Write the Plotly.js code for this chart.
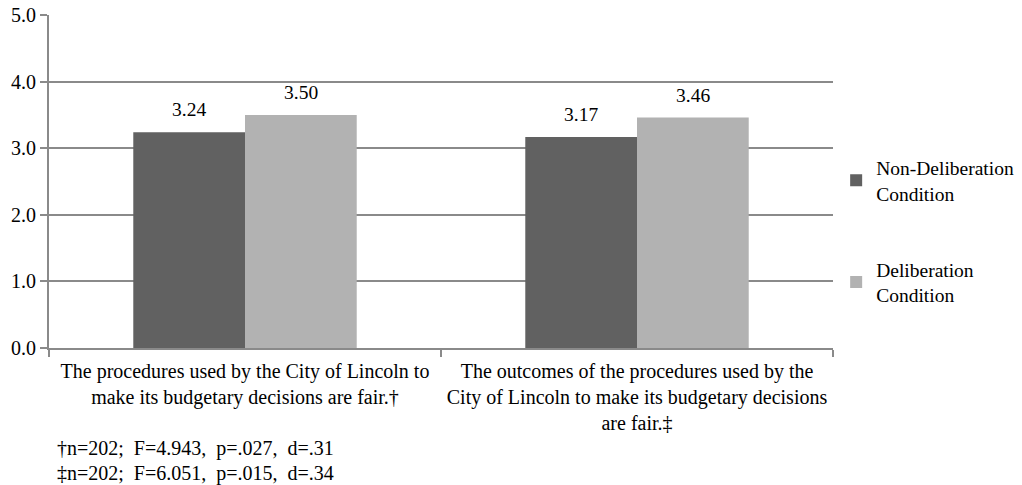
<!DOCTYPE html>
<html>
<head>
<meta charset="utf-8">
<script src="https://cdn.plot.ly/plotly-3.0.1.min.js"></script>
<style>html,body{margin:0;padding:0;background:#fff;}#chart{width:1022px;height:485px;}</style>
</head>
<body>
<div id="chart"></div>
<script>
const categories = [
  "The procedures used by the City of Lincoln to<br>make its budgetary decisions are fair.†",
  "The outcomes of the procedures used by the<br>City of Lincoln to make its budgetary decisions<br>are fair.‡"
];
const seriesNames = ["Non-Deliberation<br>Condition", "Deliberation<br>Condition"];
const nonDeliberation = [3.24, 3.17];
const deliberation = [3.50, 3.46];
const yTicks = [0, 1, 2, 3, 4, 5];
const yTickLabels = ["0.0", "1.0", "2.0", "3.0", "4.0", "5.0"];
const footnotes = [
  "†n=202;  F=4.943,  p=.027,  d=.31",
  "‡n=202;  F=6.051,  p=.015,  d=.34"
];

const font = "'Liberation Serif', 'Times New Roman', Times, serif";
const bargap = 0.43;
const marginL = 49;
const paperW = 1022 - marginL;
const plotW = 784;
const barPx = (plotW / categories.length) * (1 - bargap) / 2;

const traces = [
  {type: "bar", name: seriesNames[0], x: categories, y: nonDeliberation, legendgroup: "a",
   marker: {color: "#616161"}},
  {type: "bar", name: seriesNames[1], x: categories, y: deliberation, legendgroup: "b",
   marker: {color: "#b2b2b2"}}
];

const labelAnns = [];
[nonDeliberation, deliberation].forEach((vals, s) => {
  vals.forEach((v, i) => {
    labelAnns.push({
      text: v.toFixed(2), x: categories[i], y: v, xref: "x", yref: "y",
      xshift: (s === 0 ? -1 : 1) * barPx / 2, yshift: 10, yanchor: "bottom",
      showarrow: false, font: {family: font, size: 19.5, color: "#000"}
    });
  });
});

const layout = {
  width: 1022, height: 485,
  margin: {l: marginL, r: 0, t: 15, b: 137},
  paper_bgcolor: "#fff", plot_bgcolor: "#fff",
  font: {family: font, size: 20, color: "#000"},
  barmode: "group", bargap: bargap, bargroupgap: 0,
  showlegend: true,
  legend: {x: 0.809, y: 0.35, xanchor: "left", yanchor: "middle",
           tracegroupgap: 48, font: {family: font, size: 19.5, color: "#000"}, itemwidth: 30},
  xaxis: {type: "category", domain: [0, plotW / paperW], showline: true, linecolor: "#8a8a8a", linewidth: 2,
          ticks: "outside", tickson: "boundaries", ticklen: 7, tickcolor: "#8a8a8a", tickwidth: 2,
          ticklabelstandoff: 4, tickangle: 0,
          tickfont: {family: font, size: 20, color: "#000"}, showgrid: false, automargin: false},
  yaxis: {range: [0, 5], tickvals: yTicks, ticktext: yTickLabels, showline: true,
          linecolor: "#8a8a8a", linewidth: 2, ticks: "outside", ticklen: 7, tickcolor: "#8a8a8a", tickwidth: 2,
          showgrid: true, gridcolor: "#8a8a8a", gridwidth: 2, zeroline: false,
          tickfont: {family: font, size: 20, color: "#000"}, automargin: false},
  annotations: labelAnns.concat(footnotes.map((t, i) => ({
    text: t, xref: "paper", yref: "paper", x: 0.0065, y: -0.303 - i * 0.075,
    xanchor: "left", yanchor: "middle", showarrow: false,
    font: {family: font, size: 20, color: "#000"}
  })))
};

Plotly.newPlot("chart", traces, layout, {displayModeBar: false, staticPlot: true});
</script>
</body>
</html>
